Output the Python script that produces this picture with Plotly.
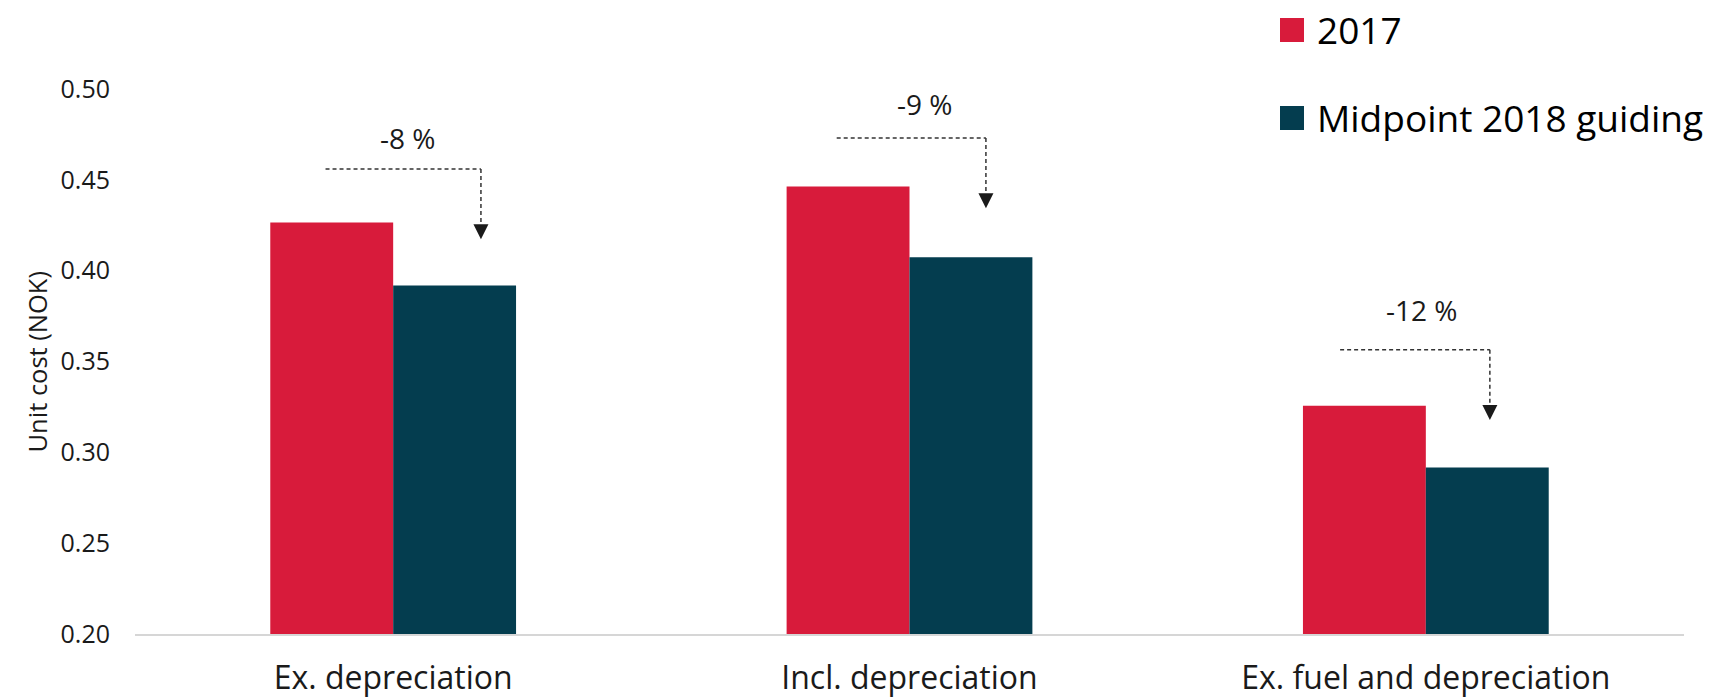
import plotly.graph_objects as go

# ---- data -------------------------------------------------------------
categories = ["Ex. depreciation", "Incl. depreciation", "Ex. fuel and depreciation"]
series_names = ["2017", "Midpoint 2018 guiding"]
unit_cost_2017 = [0.4265, 0.4463, 0.3256]
unit_cost_2018_mid = [0.3918, 0.4074, 0.2916]
change_labels = ["-8 %", "-9 %", "-12 %"]
y_tick_values = [0.20, 0.25, 0.30, 0.35, 0.40, 0.45, 0.50]
y_axis_title = "Unit cost (NOK)"

# ---- style / layout ---------------------------------------------------
FONT = "Open Sans"
TEXT = "#1a1a1a"
SERIES_COLORS = ["#D81B3B", "#043D4F"]
W, H = 1733, 699
MARGIN = dict(l=135, r=49, t=89, b=65)
PLOT_W = W - MARGIN["l"] - MARGIN["r"]
PLOT_H = H - MARGIN["t"] - MARGIN["b"]

# callout geometry per category: dashed bracket from above the 2017 bar
# down to an arrow above the 2018 bar
callout_left_dx = [-0.131, -0.141, -0.166]
callout_right_dx = [0.170, 0.148, 0.124]
callout_lift = [0.0294, 0.0267, 0.0308]      # bracket height above 2017 bar
arrow_gap = [0.0255, 0.0270, 0.0262]         # arrow tip above 2018 bar
label_dx = [0.027, 0.030, -0.008]
label_shift_px = [31, 34, 40]
ARROW_HEAD_PX = 15
Y_RANGE = [0.2, 0.5]
PX_PER_UNIT = PLOT_H / (Y_RANGE[1] - Y_RANGE[0])


def px_to_paper_x(px):
    return (px - MARGIN["l"]) / PLOT_W


def px_to_paper_y(py):
    return (H - MARGIN["b"] - py) / PLOT_H


fig = go.Figure()
for name, vals, color in zip(series_names, [unit_cost_2017, unit_cost_2018_mid], SERIES_COLORS):
    fig.add_trace(go.Bar(
        x=categories, y=vals, name=name,
        marker=dict(color=color, line=dict(width=0)),
        showlegend=False,
    ))

shapes = []
annotations = []
dash_line = dict(color="#333333", width=1.5, dash="4px,3px")
for i, label in enumerate(change_labels):
    y_line = unit_cost_2017[i] + callout_lift[i]
    y_tip = unit_cost_2018_mid[i] + arrow_gap[i]
    x0 = i + callout_left_dx[i]
    x1 = i + callout_right_dx[i]
    shapes.append(dict(type="line", xref="x", yref="y", x0=x0, x1=x1,
                       y0=y_line, y1=y_line, line=dash_line))
    shapes.append(dict(type="line", xref="x", yref="y", x0=x1, x1=x1,
                       y0=y_line, y1=y_tip + (ARROW_HEAD_PX - 2) / PX_PER_UNIT,
                       line=dash_line))
    annotations.append(dict(x=x1, y=y_tip, xref="x", yref="y", text="",
                            showarrow=True, arrowhead=2, arrowsize=2,
                            arrowwidth=1.5, arrowcolor="#1a1a1a",
                            ax=0, ay=-12, standoff=0))
    annotations.append(dict(x=i + label_dx[i], y=y_line, xref="x", yref="y",
                            text=label, showarrow=False, yshift=label_shift_px[i],
                            xanchor="center", yanchor="middle",
                            font=dict(family=FONT, size=28, color=TEXT)))

# y-axis title
annotations.append(dict(x=px_to_paper_x(36), y=0.5, xref="paper", yref="paper",
                        text=y_axis_title, textangle=-90, showarrow=False,
                        xanchor="center", yanchor="middle",
                        font=dict(family=FONT, size=25.5, color=TEXT)))

# legend: coloured squares with series names
legend_rows_px = [30, 118]
for name, color, cy in zip(series_names, SERIES_COLORS, legend_rows_px):
    shapes.append(dict(type="rect", xref="paper", yref="paper",
                       x0=px_to_paper_x(1280), x1=px_to_paper_x(1304),
                       y0=px_to_paper_y(cy + 12), y1=px_to_paper_y(cy - 12),
                       fillcolor=color, line=dict(width=0)))
    annotations.append(dict(x=px_to_paper_x(1315), y=px_to_paper_y(cy), xref="paper", yref="paper",
                            text=name, showarrow=False, xanchor="left", yanchor="middle",
                            font=dict(family=FONT, size=37, color="#000000")))

fig.update_layout(
    width=W, height=H,
    margin=dict(MARGIN, autoexpand=False),
    paper_bgcolor="white", plot_bgcolor="white",
    barmode="group", bargap=0.524, bargroupgap=0,
    font=dict(family=FONT, color=TEXT),
    shapes=shapes, annotations=annotations,
    showlegend=False,
    xaxis=dict(
        type="category", showgrid=False, zeroline=False, automargin=False,
        showline=True, linecolor="#d6d6d6", linewidth=2,
        ticks="", tickfont=dict(family=FONT, size=32, color=TEXT),
        ticklabelstandoff=15,
    ),
    yaxis=dict(
        range=Y_RANGE, tickvals=y_tick_values, tickformat=".2f", automargin=False,
        showgrid=False, zeroline=False, showline=False, ticks="",
        tickfont=dict(family=FONT, size=25, color=TEXT),
        ticklabelstandoff=24,
    ),
)

fig.write_html("out.html")
